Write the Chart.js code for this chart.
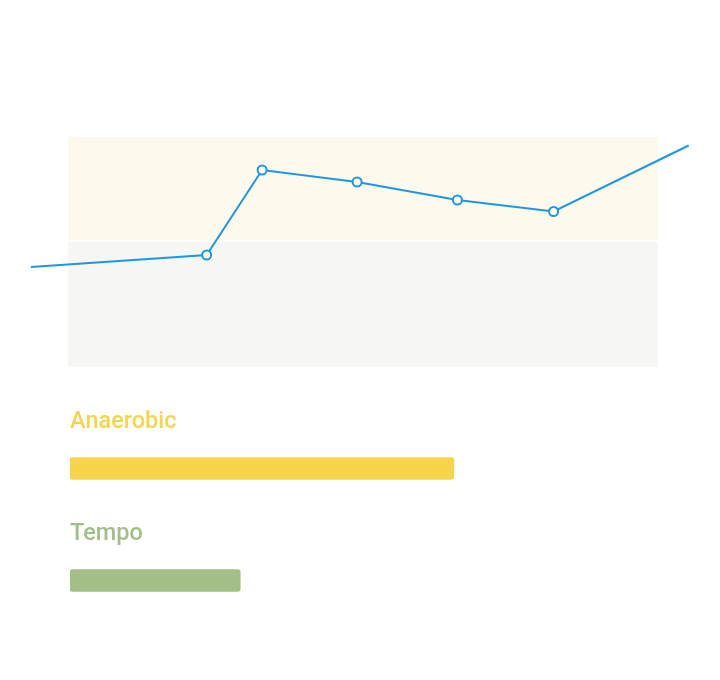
<!DOCTYPE html>
<html>
<head>
<meta charset="utf-8">
<script src="https://cdn.jsdelivr.net/npm/chart.js@4"></script>
<style>
  html, body { margin: 0; padding: 0; background: #fff; }
  body { width: 720px; height: 680px; position: relative; overflow: hidden; }
  #lineWrap { position: absolute; left: 0; top: 0; width: 720px; height: 400px; }
  #barWrap { position: absolute; left: 0; top: 390px; width: 720px; height: 260px; }
</style>
</head>
<body>
<div id="lineWrap"><canvas id="lineChart"></canvas></div>
<div id="barWrap"><canvas id="barChart"></canvas></div>
<script>
// session progress (%) and heart rate (bpm)
const progress = [-6.3, 23.5, 32.9, 49.0, 66.0, 82.3, 105.2];
const heartRate = [150, 152.4, 169.4, 167, 163.4, 161.1, 174.3];

// heart rate zones, bottom to top
const zoneNames = ['Tempo', 'Anaerobic'];
const zoneFrom = [130, 155];
const zoneTo = [155, 176];
const zoneColors = ['#f6f7f2', '#fdfaed'];

// share of time in zone (%)
const barLabels = ['Anaerobic', 'Tempo'];
const barValues = [65.4, 29];
const barColors = ['#f6d54b', '#a3bf87'];

const zoneBands = {
  id: 'zoneBands',
  beforeDatasetsDraw(chart) {
    const { ctx, chartArea, scales } = chart;
    ctx.save();
    zoneNames.forEach((name, i) => {
      const top = scales.y.getPixelForValue(zoneTo[i]);
      let bottom = scales.y.getPixelForValue(zoneFrom[i]);
      if (i > 0) bottom -= 2; // thin white gap between zones
      ctx.fillStyle = zoneColors[i];
      ctx.fillRect(chartArea.left, top, chartArea.right - chartArea.left, bottom - top);
    });
    ctx.restore();
  }
};

new Chart(document.getElementById('lineChart'), {
  type: 'line',
  data: {
    datasets: [{
      data: progress.map((x, i) => ({ x: x, y: heartRate[i] })),
      borderColor: '#1c98e3',
      borderWidth: 2,
      pointRadius: heartRate.map((v, i) => (i === 0 || i === heartRate.length - 1) ? 0 : 4.5),
      pointBackgroundColor: '#ffffff',
      pointBorderColor: '#1c98e3',
      pointBorderWidth: 2,
      tension: 0,
      clip: false
    }]
  },
  options: {
    responsive: true,
    maintainAspectRatio: false,
    animation: false,
    layout: { padding: { left: 68, right: 62, top: 137, bottom: 33 } },
    plugins: { legend: { display: false }, tooltip: { enabled: false } },
    scales: {
      x: { type: 'linear', min: 0, max: 100, display: false },
      y: { min: 130, max: 176, display: false }
    }
  },
  plugins: [zoneBands]
});

const barTitles = {
  id: 'barTitles',
  afterDatasetsDraw(chart) {
    const { ctx } = chart;
    const meta = chart.getDatasetMeta(0);
    ctx.save();
    ctx.font = '500 23.5px Roboto';
    ctx.textBaseline = 'alphabetic';
    meta.data.forEach((bar, i) => {
      ctx.fillStyle = barColors[i];
      ctx.fillText(barLabels[i], chart.chartArea.left, bar.y - 11 - 30);
    });
    ctx.restore();
  }
};

new Chart(document.getElementById('barChart'), {
  type: 'bar',
  data: {
    labels: barLabels,
    datasets: [{
      data: barValues,
      backgroundColor: barColors,
      borderRadius: 3,
      borderSkipped: false,
      barThickness: 22
    }]
  },
  options: {
    indexAxis: 'y',
    responsive: true,
    maintainAspectRatio: false,
    animation: false,
    layout: { padding: { left: 70, right: 63, top: 22.5, bottom: 13.5 } },
    plugins: { legend: { display: false }, tooltip: { enabled: false } },
    scales: {
      x: { min: 0, max: 100, display: false },
      y: { display: false }
    }
  },
  plugins: [barTitles]
});
</script>
</body>
</html>
